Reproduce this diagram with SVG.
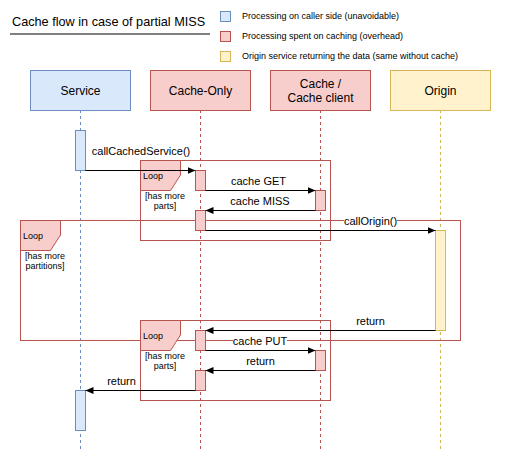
<svg xmlns="http://www.w3.org/2000/svg" width="522" height="462" viewBox="0 0 522 462">
<style>
text{font-family:"Liberation Sans",Arial,sans-serif;fill:#000}
.b{fill:#dae8fc;stroke:#6c8ebf}
.r{fill:#f8cecc;stroke:#b85450}
.y{fill:#fff2cc;stroke:#d6b656}
.frame{fill:none;stroke:#b85450}
.ll{fill:none;stroke-dasharray:3 3}
.msg{fill:none;stroke:#000}
.lab{font-size:11px;text-anchor:middle}
.act{font-size:12px;text-anchor:middle}
.leg{font-size:9px}
.lp{font-size:9px}
.guard{font-size:9px;text-anchor:middle}
</style>
<defs>
<marker id="ah" viewBox="0 0 8 7" refX="8" refY="3.5" markerWidth="8" markerHeight="7" markerUnits="userSpaceOnUse" orient="auto">
<path d="M0,0 L8,3.5 L0,7 Z" fill="#000"/>
</marker>
</defs>
<rect width="522" height="462" fill="#fff"/>
<g id="title">
<text x="12" y="25.5" style="font-size:12.7px">Cache flow in case of partial MISS</text>
<line x1="10" y1="34" x2="210" y2="34" stroke="#000"/>
</g>
<g id="legend">
<rect class="b" x="220.5" y="11.5" width="10" height="10"/>
<text class="leg" x="242" y="19">Processing on caller side (unavoidable)</text>
<rect class="r" x="220.5" y="31.5" width="10" height="10"/>
<text class="leg" x="242" y="39">Processing spent on caching (overhead)</text>
<rect class="y" x="220.5" y="51.5" width="10" height="10"/>
<text class="leg" x="242" y="59">Origin service returning the data (same without cache)</text>
</g>
<g id="lifelines">
<line class="ll" x1="80.5" y1="110" x2="80.5" y2="450" stroke="#6c8ebf"/>
<line class="ll" x1="200.5" y1="110" x2="200.5" y2="450" stroke="#b85450"/>
<line class="ll" x1="320.5" y1="110" x2="320.5" y2="450" stroke="#b85450"/>
<line class="ll" x1="440.5" y1="110" x2="440.5" y2="450" stroke="#d6b656"/>
</g>
<g id="service">
<rect class="b" x="30.5" y="70.5" width="100" height="40"/>
<text class="act" x="80.5" y="95">Service</text>
</g>
<g id="cache-only">
<rect class="r" x="150.5" y="70.5" width="100" height="40"/>
<text class="act" x="200.5" y="95">Cache-Only</text>
</g>
<g id="cache-client">
<rect class="r" x="270.5" y="70.5" width="100" height="40"/>
<text class="act" x="320.5" y="88">Cache /</text>
<text class="act" x="320.5" y="102">Cache client</text>
</g>
<g id="origin">
<rect class="y" x="390.5" y="70.5" width="100" height="40"/>
<text class="act" x="440.5" y="95">Origin</text>
</g>
<g id="loop-partitions">
<rect class="frame" x="20.5" y="220.5" width="440" height="120"/>
<path class="r" d="M20.5,220.5 H60.5 V235 L50.5,250.5 H20.5 Z"/>
<text class="lp" x="23" y="239">Loop</text>
<text class="guard" x="45" y="259">[has more</text>
<text class="guard" x="45" y="269">partitions]</text>
</g>
<g id="loop-parts-1">
<rect class="frame" x="140.5" y="160.5" width="190" height="80"/>
<path class="r" d="M140.5,160.5 H180.5 V175 L170.5,190.5 H140.5 Z"/>
<text class="lp" x="143" y="179">Loop</text>
<text class="guard" x="165" y="199">[has more</text>
<text class="guard" x="165" y="209">parts]</text>
</g>
<g id="loop-parts-2">
<rect class="frame" x="140.5" y="320.5" width="190" height="80"/>
<path class="r" d="M140.5,320.5 H180.5 V335 L170.5,350.5 H140.5 Z"/>
<text class="lp" x="143" y="339">Loop</text>
<text class="guard" x="165" y="359">[has more</text>
<text class="guard" x="165" y="369">parts]</text>
</g>
<g id="activations">
<rect class="b" x="75.5" y="130.5" width="10" height="40"/>
<rect class="r" x="195.5" y="170.5" width="10" height="20"/>
<rect class="r" x="315.5" y="190.5" width="10" height="20"/>
<rect class="r" x="195.5" y="210.5" width="10" height="20"/>
<rect class="y" x="435.5" y="230.5" width="10" height="100"/>
<rect class="r" x="195.5" y="330.5" width="10" height="20"/>
<rect class="r" x="315.5" y="350.5" width="10" height="20"/>
<rect class="r" x="195.5" y="370.5" width="10" height="20"/>
<rect class="b" x="75.5" y="390.5" width="10" height="40"/>
</g>
<g id="connectors">
<line class="msg" x1="85.5" y1="170.5" x2="195.5" y2="170.5" marker-end="url(#ah)"/>
<text class="lab" x="141" y="155">callCachedService()</text>
<line class="msg" x1="205.5" y1="190.5" x2="315.5" y2="190.5" marker-end="url(#ah)"/>
<text class="lab" x="258.5" y="185">cache GET</text>
<line class="msg" x1="315.5" y1="210.5" x2="205.5" y2="210.5" marker-end="url(#ah)"/>
<text class="lab" x="260" y="205">cache MISS</text>
<line class="msg" x1="205.5" y1="230.5" x2="435.5" y2="230.5" marker-end="url(#ah)"/>
<rect x="344" y="214" width="53" height="13" fill="#fff"/>
<text class="lab" x="370.5" y="225">callOrigin()</text>
<line class="msg" x1="435.5" y1="330.5" x2="205.5" y2="330.5" marker-end="url(#ah)"/>
<text class="lab" x="370.5" y="325">return</text>
<line class="msg" x1="205.5" y1="350.5" x2="315.5" y2="350.5" marker-end="url(#ah)"/>
<rect x="233" y="334" width="54" height="13" fill="#fff"/>
<text class="lab" x="260" y="345">cache PUT</text>
<line class="msg" x1="315.5" y1="370.5" x2="205.5" y2="370.5" marker-end="url(#ah)"/>
<text class="lab" x="260.5" y="365">return</text>
<line class="msg" x1="195.5" y1="390.5" x2="85.5" y2="390.5" marker-end="url(#ah)"/>
<text class="lab" x="121.5" y="385">return</text>
</g>
</svg>
